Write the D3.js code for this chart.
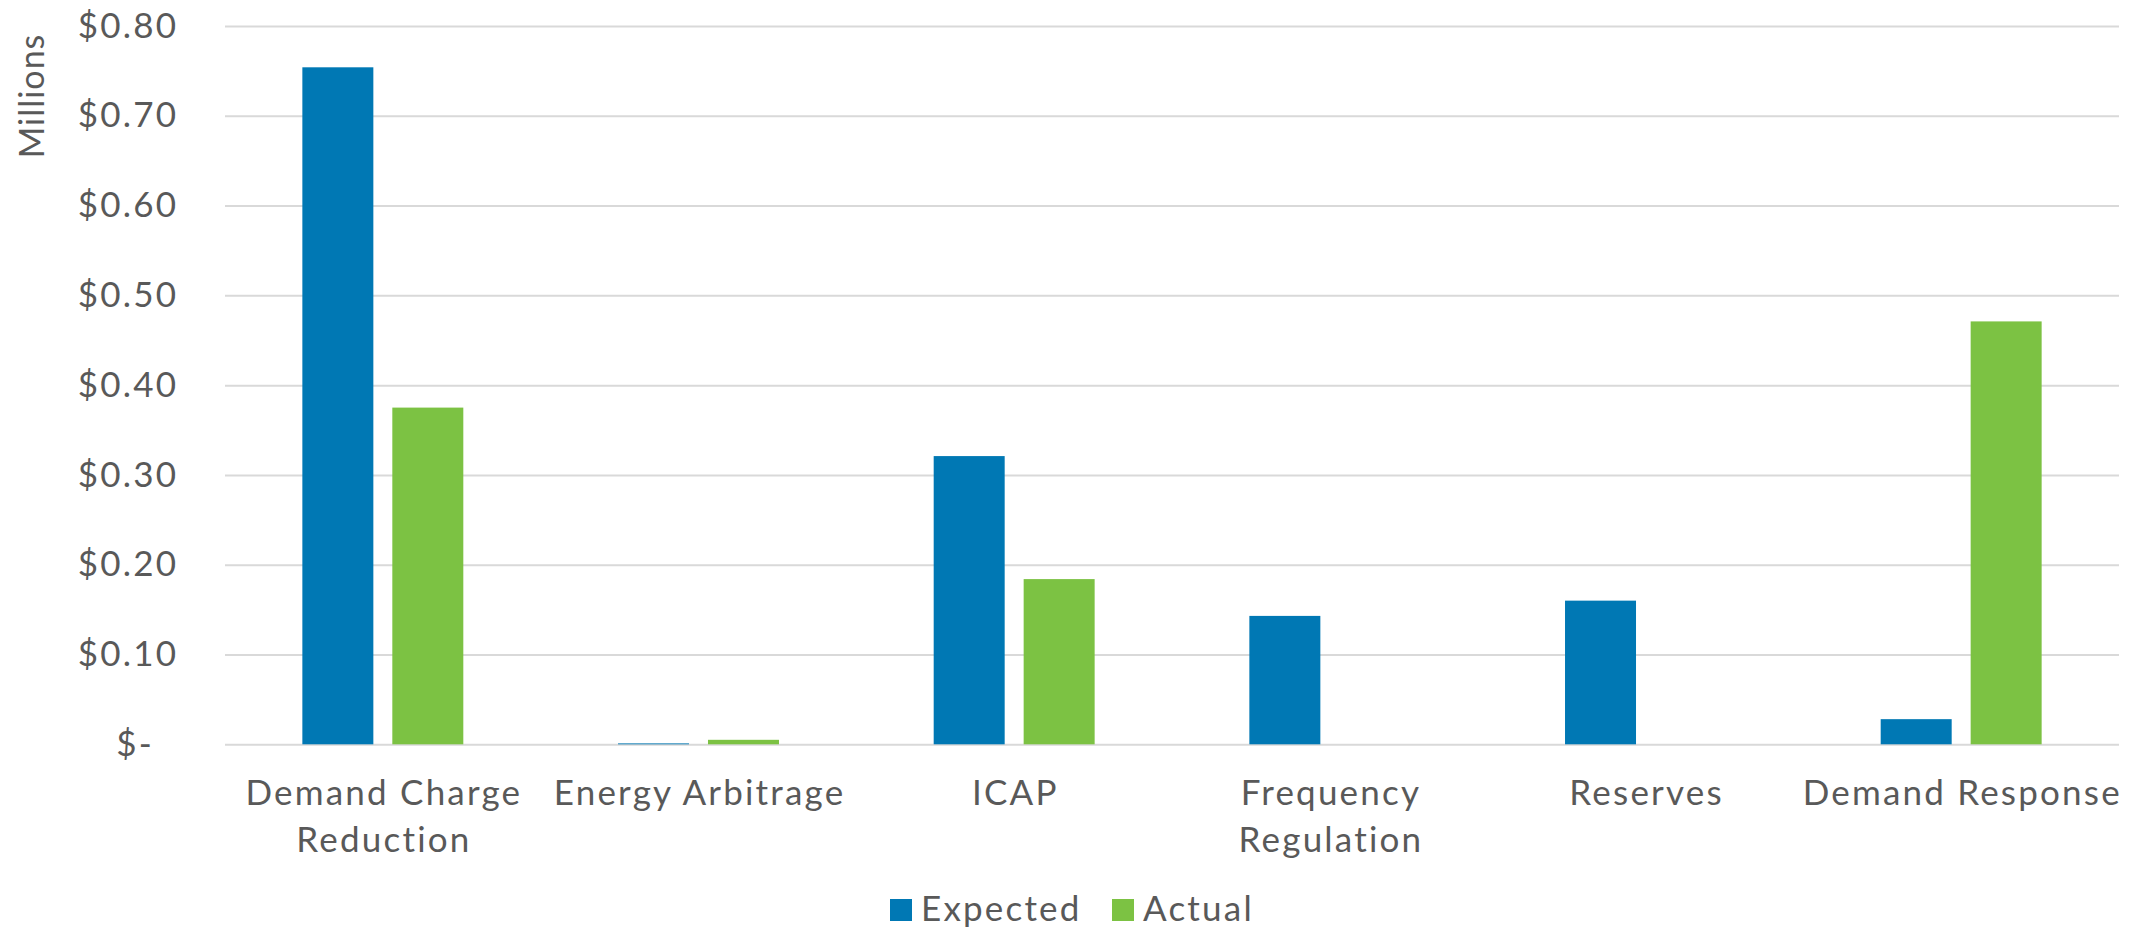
<!DOCTYPE html>
<html>
<head>
<meta charset="utf-8">
<script src="https://cdn.jsdelivr.net/npm/d3@7"></script>
<style>
  html, body { margin: 0; padding: 0; background: #fff; }
  svg { display: block; }
  text { font-family: Lato, "Open Sans", sans-serif; fill: #595959; letter-spacing: 2.2px; }
</style>
</head>
<body>
<svg id="chart" width="2141" height="929"></svg>
<script>
// ---- data ----
const categories = ["Demand Charge Reduction", "Energy Arbitrage", "ICAP", "Frequency Regulation", "Reserves", "Demand Response"];
const categoryLines = [["Demand Charge", "Reduction"], ["Energy Arbitrage"], ["ICAP"], ["Frequency", "Regulation"], ["Reserves"], ["Demand Response"]];
const seriesNames = ["Expected", "Actual"];
const expectedValues = [0.754, 0.001, 0.321, 0.143, 0.160, 0.028];
const actualValues = [0.375, 0.005, 0.184, 0, 0, 0.471];
const yTicks = [0, 0.1, 0.2, 0.3, 0.4, 0.5, 0.6, 0.7, 0.8];
const seriesColors = ["#0078B4", "#7CC243"];

// ---- layout ----
const svg = d3.select("#chart");
const plotLeft = 225, plotRight = 2119, plotTop = 26, plotBottom = 744.3;
const fs = 35;

const x = d3.scaleBand().domain(categories).range([plotLeft, plotRight]).paddingInner(0).paddingOuter(0);
const y = d3.scaleLinear().domain([0, 0.8]).range([plotBottom, plotTop]);

// gridlines + y labels
const yAxis = d3.axisLeft(y).tickValues(yTicks).tickSize(-(plotRight - plotLeft)).tickPadding(49)
  .tickFormat(d => d === 0 ? "$-" : "$" + d3.format(".2f")(d));
const gy = svg.append("g").attr("transform", `translate(${plotLeft},0)`).call(yAxis);
gy.select(".domain").remove();
gy.selectAll(".tick line").attr("stroke", "#D9D9D9").attr("stroke-width", 2);
gy.selectAll(".tick text").attr("font-size", fs).attr("fill", "#595959")
  .style("font-family", "Lato, sans-serif")
  .attr("dx", d => d === 0 ? -22 : 2.2);

// bars
const barW = x.bandwidth() * 0.2249;
const offset = x.bandwidth() * 0.1425;
const series = [expectedValues, actualValues];
series.forEach((vals, si) => {
  svg.append("g").selectAll("rect").data(categories).join("rect")
    .attr("x", d => x(d) + x.bandwidth() / 2 + (si === 0 ? -offset : offset) - barW / 2)
    .attr("y", (d, i) => y(vals[i]))
    .attr("width", barW)
    .attr("height", (d, i) => y(0) - y(vals[i]))
    .attr("fill", seriesColors[si]);
});

// x labels
const xl = svg.append("g");
categories.forEach((c, i) => {
  const cx = x(c) + x.bandwidth() / 2 + 1.1;
  const t = xl.append("text").attr("text-anchor", "middle").attr("font-size", fs)
    .attr("x", cx).attr("y", 805);
  categoryLines[i].forEach((ln, j) => {
    t.append("tspan").attr("x", cx).attr("dy", j === 0 ? 0 : 46.7).text(ln);
  });
});

// y axis title
svg.append("text").attr("transform", "translate(44,96) rotate(-90)")
  .attr("text-anchor", "middle").attr("font-size", 34).style("letter-spacing", "1px").text("Millions");

// legend
const legend = svg.append("g");
const legendX = [890, 1112];
seriesNames.forEach((s, i) => {
  legend.append("rect").attr("x", legendX[i]).attr("y", 899).attr("width", 22).attr("height", 22).attr("fill", seriesColors[i]);
  legend.append("text").attr("x", legendX[i] + 31).attr("y", 921).attr("font-size", fs).text(s);
});
</script>
</body>
</html>
